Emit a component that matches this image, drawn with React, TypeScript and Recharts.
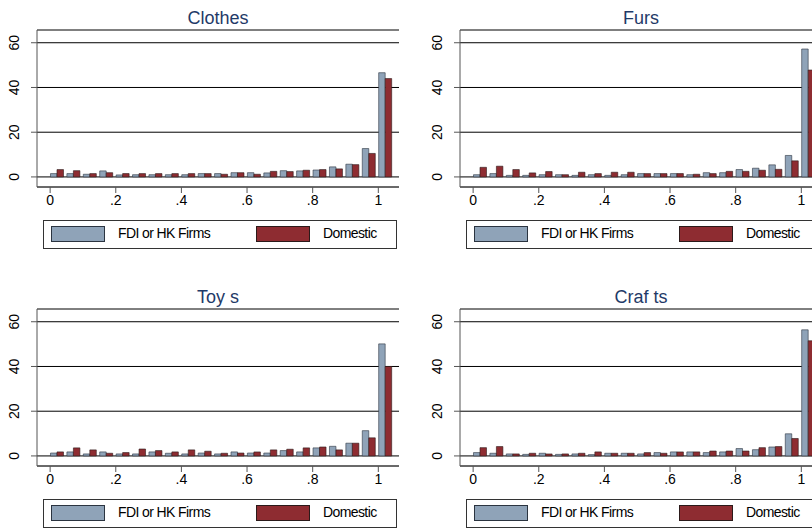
import { BarChart, Bar, XAxis, YAxis, CartesianGrid } from "recharts";

const bins = [0, 0.05, 0.1, 0.15, 0.2, 0.25, 0.3, 0.35, 0.4, 0.45, 0.5, 0.55, 0.6, 0.65, 0.7, 0.75, 0.8, 0.85, 0.9, 0.95, 1];
const xTicks = [0, 0.2, 0.4, 0.6, 0.8, 1];
const yTicks = [0, 20, 40, 60];

const clothesFdi = [1.5, 1.5, 1.2, 2.7, 0.9, 1, 1, 1, 1, 1.5, 1.5, 1.9, 1.9, 1.8, 2.8, 2.7, 3.1, 4.5, 5.7, 12.7, 46.6];
const clothesDom = [3.3, 2.8, 1.5, 1.9, 1.5, 1.5, 1.5, 1.5, 1.5, 1.5, 1.2, 1.9, 1.2, 2.5, 2.4, 3, 3.3, 3.6, 5.5, 10.5, 44];
const fursFdi = [1, 1.5, 0.7, 0.7, 1, 1, 0.7, 1, 0.7, 1, 1.5, 1.5, 1.5, 1, 1.9, 1.9, 3.3, 3.9, 5.4, 9.6, 57.2];
const fursDom = [4.3, 4.8, 3.3, 1.8, 2.4, 1, 2.1, 1.5, 2.1, 2.1, 1.5, 1.5, 1.5, 1.2, 1.5, 2.5, 2.5, 3, 3.4, 7.2, 47.8];
const toysFdi = [1.3, 1.8, 0.9, 1.8, 0.9, 0.9, 1.8, 1.2, 0.9, 1.3, 0.9, 1.8, 1.3, 1.3, 2.4, 1.8, 3.6, 4.3, 5.7, 11.3, 50.1];
const toysDom = [1.8, 3.6, 2.7, 1.2, 1.5, 3.1, 2.4, 1.8, 2.7, 2.1, 1.2, 1.3, 1.8, 2.7, 3, 3.6, 4, 2.7, 5.7, 8.1, 40];
const craftsFdi = [1.5, 1.2, 0.9, 0.7, 1.2, 0.7, 0.9, 0.6, 1.2, 1.2, 0.9, 1.5, 1.8, 1.8, 1.5, 1.8, 3.3, 2.8, 4, 9.9, 56.4];
const craftsDom = [3.7, 4.2, 0.9, 1.2, 0.9, 0.9, 1.2, 1.8, 1.2, 1.2, 1.5, 1.2, 1.8, 1.8, 2.2, 2.2, 2.2, 3.7, 4.2, 7.8, 51.5];

const BLUE = "#8fa3b8";
const RED = "#8e2c31";
const FONT = "'Liberation Sans', Arial, sans-serif";

const fmtX = (v: number) => (v === 0 ? "0" : v === 1 ? "1" : String(v).replace(/^0/, ""));

const YTick = (props: any) => {
  const { x, y, payload } = props;
  return (
    <text
      x={x - 10}
      y={y}
      transform={`rotate(-90, ${x - 10}, ${y})`}
      textAnchor="middle"
      fontSize={14}
      fontFamily={FONT}
      fill="#000"
    >
      {payload.value}
    </text>
  );
};

function Panel({ title, fdi, dom, left, top }: { title: string; fdi: number[]; dom: number[]; left: number; top: number }) {
  const data = bins.map((b, i) => ({ mid: b + 0.02, fdi: fdi[i], dom: dom[i] }));
  return (
    <div style={{ position: "absolute", left, top, width: 410, height: 260 }}>
      <div
        style={{
          position: "absolute",
          left: 37,
          width: 362,
          top: 8,
          textAlign: "center",
          fontFamily: FONT,
          fontSize: 18,
          color: "#1f3a68",
        }}
      >
        {title}
      </div>
      <BarChart
        width={410}
        height={210}
        data={data}
        margin={{ top: 30, right: 11, bottom: 3, left: 10 }}
        barSize={6.5}
        barGap={0}
      >
        <CartesianGrid horizontal vertical={false} stroke="#000" strokeWidth={1} />
        <XAxis
          dataKey="mid"
          type="number"
          domain={[-0.04, 1.063]}
          ticks={xTicks}
          tickFormatter={fmtX}
          allowDataOverflow
          height={20}
          tickSize={6}
          stroke="#555"
          tick={{ fontSize: 14, fontFamily: FONT, fill: "#000" }}
        />
        <YAxis
          type="number"
          domain={[-4.5, 65.7]}
          ticks={yTicks}
          allowDataOverflow
          width={27}
          tickSize={6}
          tickMargin={2}
          stroke="#555"
          tick={<YTick />}
        />
        <Bar dataKey="fdi" fill={BLUE} stroke="#2b3440" strokeWidth={0.6} isAnimationActive={false} />
        <Bar dataKey="dom" fill={RED} stroke="#2b1a1a" strokeWidth={0.6} isAnimationActive={false} />
      </BarChart>
      <div
        style={{
          position: "absolute",
          left: 43,
          top: 220,
          width: 352,
          height: 27,
          border: "1px solid #333",
          fontFamily: FONT,
          fontSize: 14,
          color: "#000",
          letterSpacing: -0.6,
        }}
      >
        <div style={{ position: "absolute", left: 7, top: 5, width: 54, height: 16, background: BLUE, border: "1px solid #2b3440", boxSizing: "border-box" }} />
        <div style={{ position: "absolute", left: 74, top: 4 }}>FDI or HK Firms</div>
        <div style={{ position: "absolute", left: 212, top: 5, width: 54, height: 16, background: RED, border: "1px solid #2b1a1a", boxSizing: "border-box" }} />
        <div style={{ position: "absolute", left: 279, top: 4 }}>Domestic</div>
      </div>
    </div>
  );
}

export default function App() {
  return (
    <div style={{ position: "fixed", left: 0, top: 0, width: 812, height: 529, overflow: "hidden", background: "#fff" }}>
      <Panel title="Clothes" fdi={clothesFdi} dom={clothesDom} left={0} top={0} />
      <Panel title="Furs" fdi={fursFdi} dom={fursDom} left={423} top={0} />
      <Panel title="Toy s" fdi={toysFdi} dom={toysDom} left={0} top={279} />
      <Panel title="Craf ts" fdi={craftsFdi} dom={craftsDom} left={423} top={279} />
    </div>
  );
}
